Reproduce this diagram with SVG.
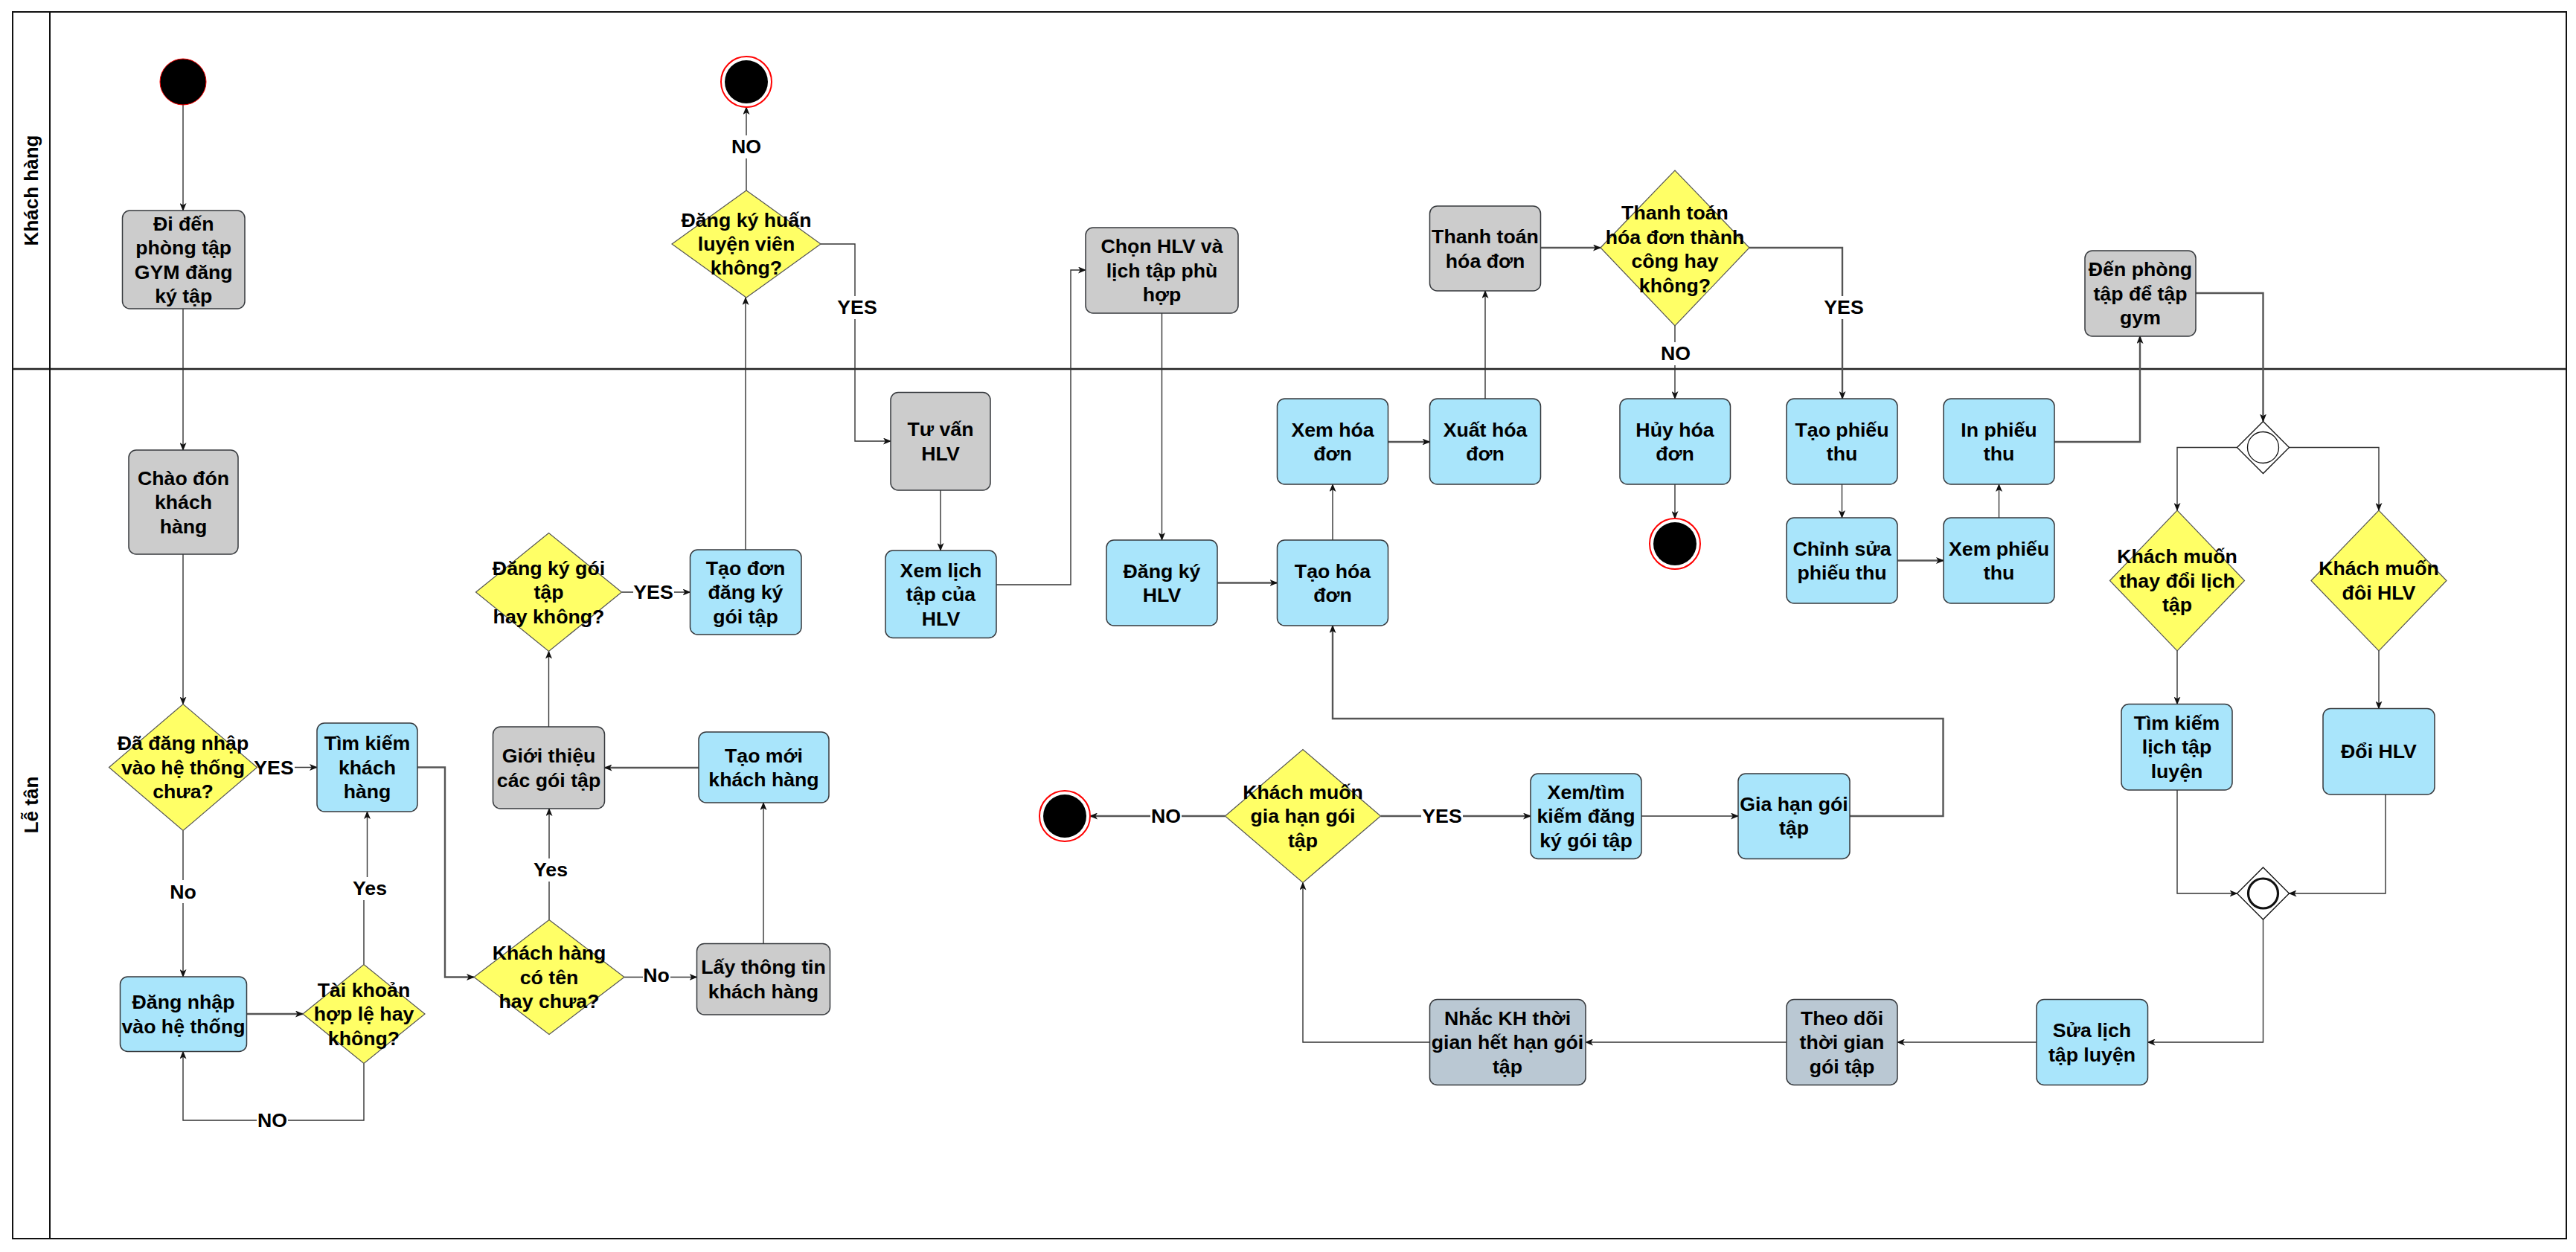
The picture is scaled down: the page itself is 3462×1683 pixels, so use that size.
<svg xmlns="http://www.w3.org/2000/svg" width="3462" height="1683" viewBox="0 0 3462 1683">
<style>
text{font-family:"Liberation Sans",Arial,sans-serif;font-weight:bold;font-size:26.7px;fill:#000;text-anchor:middle;dominant-baseline:central}
.lane{font-size:26px}
.nd{stroke:#36393d;stroke-width:1.5}
.g{fill:#cccccc}
.b{fill:#a9e5fb}
.s{fill:#bac8d3}
.dm{fill:#ffff66;stroke:#555;stroke-width:1.2}
.c{fill:none;stroke:#333;stroke-width:1.4;marker-end:url(#ah)}
.cn{fill:none;stroke:#333;stroke-width:1.4}
.t{stroke:#555;stroke-width:2.4}
.lb{fill:#fff}
</style>
<defs>
<marker id="ah" markerWidth="11" markerHeight="9" refX="10" refY="4.5" orient="auto" markerUnits="userSpaceOnUse"><path d="M0,0 L11,4.5 L0,9 L2.8,4.5 z" fill="#111"/></marker>
</defs>
<rect width="3462" height="1683" fill="#fff"/>
<g id="lanes">
<rect x="17" y="16" width="3432" height="1649" fill="none" stroke="#111" stroke-width="2"/>
<line x1="17" y1="496" x2="3449" y2="496" stroke="#222" stroke-width="2.6"/>
<line x1="67" y1="16" x2="67" y2="1665" stroke="#111" stroke-width="2"/>
<text class="lane" transform="translate(42,256) rotate(-90)">Khách hàng</text>
<text class="lane" transform="translate(42,1082) rotate(-90)">Lễ tân</text>
</g>
<g id="connectors">
<path class="c" d="M246,141 V283"/>
<path class="c" d="M246,415 V605"/>
<path class="c" d="M246,745 V946.5"/>
<path class="c" d="M345.5,1031.5 H426"/>
<path class="c" d="M246,1116.5 V1313"/>
<path class="c t" d="M331.5,1363 H407"/>
<path class="c" d="M489,1296.5 V1200 H493.5 V1091"/>
<path class="c" d="M489,1429.5 V1506 H246 V1413.5"/>
<path class="c t" d="M561,1031.5 H598 V1313.5 H637"/>
<path class="c" d="M738,1236.5 V1087"/>
<path class="c" d="M839,1313.5 H936.5"/>
<path class="c" d="M1026,1268.5 V1079"/>
<path class="c t" d="M939,1032 H812.5"/>
<path class="c" d="M940,1055.5 H963"/>
<path class="c" d="M737.5,977 V875.5"/>
<path class="c" d="M835.5,796 H927.5"/>
<path class="c" d="M1002,739 V400"/>
<path class="c" d="M1003,256 V144"/>
<path class="c" d="M1103,328 H1149 V593 H1197"/>
<path class="c" d="M1264,659 V740"/>
<path class="c" d="M1339,786 H1439 V363 H1459"/>
<path class="c" d="M1561.5,421 V726"/>
<path class="c t" d="M1636,783.5 H1716.5"/>
<path class="c" d="M1791,726 V651"/>
<path class="c t" d="M1865.5,594 H1921.5"/>
<path class="c" d="M1996,536 V391"/>
<path class="c t" d="M2070.5,333 H2151"/>
<path class="c" d="M2251,438 V536"/>
<path class="c t" d="M2351,333 H2476 V536"/>
<path class="c" d="M2251,651 V697"/>
<path class="c" d="M2475.5,651 V696"/>
<path class="c t" d="M2550,753.5 H2612"/>
<path class="c" d="M2686.5,696 V651"/>
<path class="c t" d="M2761,594 H2876 V452"/>
<path class="c t" d="M2951,394 H3041.5 V566.5"/>
<path class="c" d="M3006.5,601.5 H2926 V686"/>
<path class="c" d="M3076.5,601.5 H3197 V686"/>
<path class="c" d="M2926,875 V946.5"/>
<path class="c" d="M3197,875 V952.5"/>
<path class="c" d="M2926,1062 V1201 H3006.5"/>
<path class="c" d="M3206,1068 V1201 H3076.5"/>
<path class="c" d="M3041.5,1236 V1401 H2886.5"/>
<path class="c" d="M2737,1401 H2550"/>
<path class="c" d="M2401,1401 H2131"/>
<path class="c" d="M1921.5,1401 H1751 V1186.5"/>
<path class="c t" d="M1646.5,1097 H1465"/>
<path class="c t" d="M1855.5,1097 H2057"/>
<path class="c" d="M2206,1097 H2336"/>
<path class="c t" d="M2486,1097 H2611.5 V966 H1791 V841"/>
<g id="edge-labels">
<rect class="lb" x="340" y="1016" width="56" height="31"/><text x="368" y="1031.5">YES</text>
<rect class="lb" x="228" y="1183" width="37" height="31"/><text x="246" y="1198.5">No</text>
<rect class="lb" x="473" y="1179" width="48" height="31"/><text x="497" y="1194">Yes</text>
<rect class="lb" x="345" y="1491" width="42" height="31"/><text x="366" y="1506">NO</text>
<rect class="lb" x="716" y="1154" width="48" height="31"/><text x="740" y="1169">Yes</text>
<rect class="lb" x="864" y="1296" width="37" height="31"/><text x="882" y="1311">No</text>
<rect class="lb" x="851" y="781" width="55" height="31"/><text x="878" y="796">YES</text>
<rect class="lb" x="982" y="182" width="42" height="31"/><text x="1003" y="197">NO</text>
<rect class="lb" x="1124" y="398" width="56" height="31"/><text x="1152" y="413">YES</text>
<rect class="lb" x="2231" y="460" width="42" height="31"/><text x="2252" y="475">NO</text>
<rect class="lb" x="2450" y="398" width="56" height="31"/><text x="2478" y="413">YES</text>
<rect class="lb" x="1546" y="1082" width="42" height="31"/><text x="1567" y="1097">NO</text>
<rect class="lb" x="1910" y="1082" width="56" height="31"/><text x="1938" y="1097">YES</text>
</g>
</g>
<g id="start"><circle cx="246" cy="110" r="31" fill="#000" stroke="#f00" stroke-width="1"/></g>
<g id="end1"><circle cx="1003" cy="110" r="34" fill="#fff" stroke="#f00" stroke-width="2"/><circle cx="1003" cy="110" r="29" fill="#000"/></g>
<g id="end2"><circle cx="2251" cy="731" r="34" fill="#fff" stroke="#f00" stroke-width="2"/><circle cx="2251" cy="731" r="29" fill="#000"/></g>
<g id="end3"><circle cx="1431" cy="1097" r="34" fill="#fff" stroke="#f00" stroke-width="2"/><circle cx="1431" cy="1097" r="29" fill="#000"/></g>
<g id="n-diden"><rect class="nd g" x="164.5" y="283" width="164.5" height="132" rx="10"/><text x="246.7"><tspan x="246.7" y="300.5">Đi đến</tspan><tspan x="246.7" y="333">phòng tập</tspan><tspan x="246.7" y="365.5">GYM đăng</tspan><tspan x="246.7" y="398">ký tập</tspan></text></g>
<g id="d-hlv"><polygon class="dm" points="903,328 1003,256 1103,328 1003,400"/><text x="1003"><tspan x="1003" y="296">Đăng ký huấn</tspan><tspan x="1003" y="328">luyện viên</tspan><tspan x="1003" y="360">không?</tspan></text></g>
<g id="n-chonhlv"><rect class="nd g" x="1459" y="306" width="205" height="115" rx="10"/><text><tspan x="1561.5" y="331">Chọn HLV và</tspan><tspan x="1561.5" y="363.5">lịch tập phù</tspan><tspan x="1561.5" y="396">hợp</tspan></text></g>
<g id="n-thanhtoan"><rect class="nd g" x="1921.5" y="277" width="149" height="114" rx="10"/><text><tspan x="1996" y="318">Thanh toán</tspan><tspan x="1996" y="350.5">hóa đơn</tspan></text></g>
<g id="d-tt"><polygon class="dm" points="2151,333 2251,229 2351,333 2251,438"/><text><tspan x="2251" y="286">Thanh toán</tspan><tspan x="2251" y="318.5">hóa đơn thành</tspan><tspan x="2251" y="351">công hay</tspan><tspan x="2251" y="383.5">không?</tspan></text></g>
<g id="n-denphong"><rect class="nd g" x="2802" y="337" width="149" height="115" rx="10"/><text><tspan x="2876.5" y="362">Đến phòng</tspan><tspan x="2876.5" y="394.5">tập để tập</tspan><tspan x="2876.5" y="427">gym</tspan></text></g>
<g id="n-chaodon"><rect class="nd g" x="173" y="605" width="147" height="140" rx="10"/><text><tspan x="246.5" y="642.5">Chào đón</tspan><tspan x="246.5" y="675">khách</tspan><tspan x="246.5" y="707.5">hàng</tspan></text></g>
<g id="d-dadn"><polygon class="dm" points="146.5,1031.5 246,946.5 345.5,1031.5 246,1116.5"/><text><tspan x="246" y="999">Đã đăng nhập</tspan><tspan x="246" y="1031.5">vào hệ thống</tspan><tspan x="246" y="1064">chưa?</tspan></text></g>
<g id="n-timkiem"><rect class="nd b" x="426" y="972" width="135" height="119" rx="10"/><text><tspan x="493.5" y="999">Tìm kiếm</tspan><tspan x="493.5" y="1031.5">khách</tspan><tspan x="493.5" y="1064">hàng</tspan></text></g>
<g id="n-dangnhap"><rect class="nd b" x="161.5" y="1313" width="170" height="100.5" rx="10"/><text><tspan x="246.5" y="1347">Đăng nhập</tspan><tspan x="246.5" y="1379.5">vào hệ thống</tspan></text></g>
<g id="d-taikhoan"><polygon class="dm" points="407,1363 489,1296.5 571,1363 489,1429.5"/><text><tspan x="489" y="1330.5">Tài khoản</tspan><tspan x="489" y="1363">hợp lệ hay</tspan><tspan x="489" y="1395.5">không?</tspan></text></g>
<g id="d-coten"><polygon class="dm" points="637,1313.5 738,1236.5 839,1313.5 738,1390.5"/><text><tspan x="738" y="1281">Khách hàng</tspan><tspan x="738" y="1313.5">có tên</tspan><tspan x="738" y="1346">hay chưa?</tspan></text></g>
<g id="n-gioithieu"><rect class="nd g" x="662.5" y="977" width="150" height="110" rx="10"/><text><tspan x="737.5" y="1016">Giới thiệu</tspan><tspan x="737.5" y="1048.5">các gói tập</tspan></text></g>
<g id="d-dkgoi"><polygon class="dm" points="639.5,796 737.5,716.5 835.5,796 737.5,875.5"/><text><tspan x="737.5" y="763.5">Đăng ký gói</tspan><tspan x="737.5" y="796">tập</tspan><tspan x="737.5" y="828.5">hay không?</tspan></text></g>
<g id="n-taodon"><rect class="nd b" x="927.5" y="739" width="149.5" height="114" rx="10"/><text><tspan x="1002" y="763.5">Tạo đơn</tspan><tspan x="1002" y="796">đăng ký</tspan><tspan x="1002" y="828.5">gói tập</tspan></text></g>
<g id="n-taomoi"><rect class="nd b" x="939" y="984" width="175" height="95" rx="10"/><text><tspan x="1026.5" y="1015.5">Tạo mới</tspan><tspan x="1026.5" y="1048">khách hàng</tspan></text></g>
<g id="n-laytt"><rect class="nd g" x="936.5" y="1268.5" width="179" height="95.5" rx="10"/><text><tspan x="1026" y="1300">Lấy thông tin</tspan><tspan x="1026" y="1332.5">khách hàng</tspan></text></g>
<g id="n-tuvan"><rect class="nd g" x="1197" y="527.5" width="134" height="131.5" rx="10"/><text><tspan x="1264" y="577">Tư vấn</tspan><tspan x="1264" y="609.5">HLV</tspan></text></g>
<g id="n-xemlich"><rect class="nd b" x="1190" y="740" width="149" height="117.5" rx="10"/><text><tspan x="1264.5" y="766.5">Xem lịch</tspan><tspan x="1264.5" y="799">tập của</tspan><tspan x="1264.5" y="831.5">HLV</tspan></text></g>
<g id="n-dkhlv"><rect class="nd b" x="1487" y="726" width="149" height="115" rx="10"/><text><tspan x="1561.5" y="767.5">Đăng ký</tspan><tspan x="1561.5" y="800">HLV</tspan></text></g>
<g id="n-taohd"><rect class="nd b" x="1716.5" y="726" width="149" height="115" rx="10"/><text><tspan x="1791" y="767.5">Tạo hóa</tspan><tspan x="1791" y="800">đơn</tspan></text></g>
<g id="n-xemhd"><rect class="nd b" x="1716.5" y="536" width="149" height="115" rx="10"/><text><tspan x="1791" y="577.5">Xem hóa</tspan><tspan x="1791" y="610">đơn</tspan></text></g>
<g id="n-xuathd"><rect class="nd b" x="1921.5" y="536" width="149" height="115" rx="10"/><text><tspan x="1996" y="577.5">Xuất hóa</tspan><tspan x="1996" y="610">đơn</tspan></text></g>
<g id="n-huyhd"><rect class="nd b" x="2177" y="536" width="148.5" height="115" rx="10"/><text><tspan x="2251" y="577.5">Hủy hóa</tspan><tspan x="2251" y="610">đơn</tspan></text></g>
<g id="n-taophieu"><rect class="nd b" x="2401" y="536" width="149" height="115" rx="10"/><text><tspan x="2475.5" y="577.5">Tạo phiếu</tspan><tspan x="2475.5" y="610">thu</tspan></text></g>
<g id="n-inphieu"><rect class="nd b" x="2612" y="536" width="149" height="115" rx="10"/><text><tspan x="2686.5" y="577.5">In phiếu</tspan><tspan x="2686.5" y="610">thu</tspan></text></g>
<g id="n-chinhsua"><rect class="nd b" x="2401" y="696" width="149" height="115" rx="10"/><text><tspan x="2475.5" y="737.5">Chỉnh sửa</tspan><tspan x="2475.5" y="770">phiếu thu</tspan></text></g>
<g id="n-xemphieu"><rect class="nd b" x="2612" y="696" width="149" height="115" rx="10"/><text><tspan x="2686.5" y="737.5">Xem phiếu</tspan><tspan x="2686.5" y="770">thu</tspan></text></g>
<g id="gw1"><polygon points="3006.5,601.5 3041.5,566.5 3076.5,601.5 3041.5,636.5" fill="#fff" stroke="#111" stroke-width="1.3"/><circle cx="3041.5" cy="601.5" r="21" fill="none" stroke="#111" stroke-width="1.3"/></g>
<g id="d-thaydoi"><polygon class="dm" points="2835.5,780.5 2926,686 3016.5,780.5 2926,875"/><text><tspan x="2926" y="748">Khách muốn</tspan><tspan x="2926" y="780.5">thay đổi lịch</tspan><tspan x="2926" y="813">tập</tspan></text></g>
<g id="d-doihlv"><polygon class="dm" points="3106,780.5 3197,686 3288,780.5 3197,875"/><text><tspan x="3197" y="764">Khách muốn</tspan><tspan x="3197" y="796.5">đôi HLV</tspan></text></g>
<g id="n-timlich"><rect class="nd b" x="2851" y="946.5" width="149" height="115.5" rx="10"/><text><tspan x="2925.5" y="971.5">Tìm kiếm</tspan><tspan x="2925.5" y="1004">lịch tập</tspan><tspan x="2925.5" y="1036.5">luyện</tspan></text></g>
<g id="n-doihlv"><rect class="nd b" x="3122" y="952.5" width="150" height="115.5" rx="10"/><text x="3197" y="1010">Đổi HLV</text></g>
<g id="gw2"><polygon points="3006.5,1201 3041.5,1166 3076.5,1201 3041.5,1236" fill="#fff" stroke="#111" stroke-width="1.3"/><circle cx="3041.5" cy="1201" r="20" fill="none" stroke="#111" stroke-width="3.2"/></g>
<g id="n-sualich"><rect class="nd b" x="2737" y="1343.5" width="149.5" height="115" rx="10"/><text><tspan x="2811.5" y="1385">Sửa lịch</tspan><tspan x="2811.5" y="1417.5">tập luyện</tspan></text></g>
<g id="n-theodoi"><rect class="nd s" x="2401" y="1343.5" width="149" height="115" rx="10"/><text><tspan x="2475.5" y="1368.5">Theo dõi</tspan><tspan x="2475.5" y="1401">thời gian</tspan><tspan x="2475.5" y="1433.5">gói tập</tspan></text></g>
<g id="n-nhac"><rect class="nd s" x="1921.5" y="1343.5" width="209.5" height="115" rx="10"/><text><tspan x="2026" y="1368.5">Nhắc KH thời</tspan><tspan x="2026" y="1401">gian hết hạn gói</tspan><tspan x="2026" y="1433.5">tập</tspan></text></g>
<g id="d-giahan"><polygon class="dm" points="1646.5,1097 1751,1007.5 1855.5,1097 1751,1186.5"/><text><tspan x="1751" y="1064.5">Khách muốn</tspan><tspan x="1751" y="1097">gia hạn gói</tspan><tspan x="1751" y="1129.5">tập</tspan></text></g>
<g id="n-xemtim"><rect class="nd b" x="2057" y="1040" width="149" height="114.5" rx="10"/><text><tspan x="2131.5" y="1064.5">Xem/tìm</tspan><tspan x="2131.5" y="1097">kiếm đăng</tspan><tspan x="2131.5" y="1129.5">ký gói tập</tspan></text></g>
<g id="n-giahan"><rect class="nd b" x="2336" y="1040" width="150" height="114.5" rx="10"/><text><tspan x="2411" y="1080.5">Gia hạn gói</tspan><tspan x="2411" y="1113">tập</tspan></text></g>
</svg>
